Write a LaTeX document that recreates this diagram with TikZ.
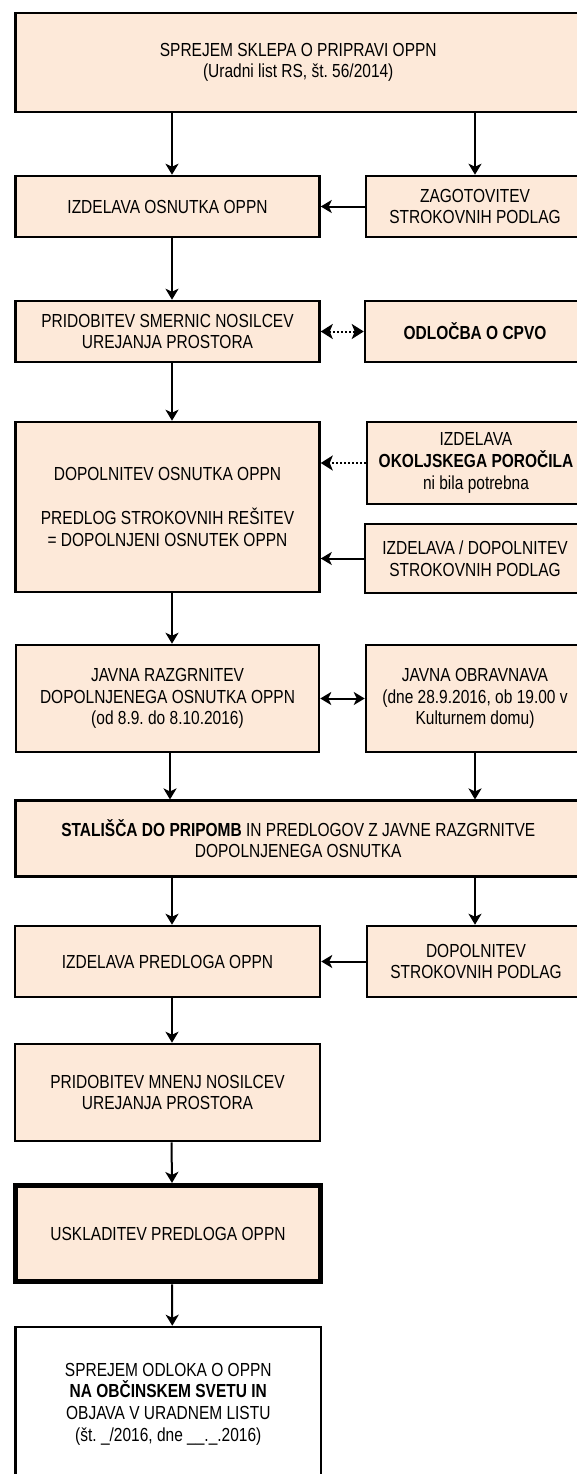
\documentclass[tikz,border=0pt]{standalone}
\usepackage{fontspec}
\setmainfont{Liberation Sans}[FakeStretch=0.82]
\usetikzlibrary{arrows.meta}
\definecolor{peach}{HTML}{FDE9D9}
\frenchspacing

\begin{document}
\begin{tikzpicture}[x=1pt,y=-1pt,
	korak/.style={draw, line width=2.5pt, fill=peach, inner sep=0pt, align=center,
		font=\fontsize{18.9}{21.7}\selectfont},
	arr/.style={-{Stealth[length=11pt,width=13pt,inset=3pt]}, line width=2pt},
	dvoarr/.style={{Stealth[length=11pt,width=13pt,inset=3pt]}-{Stealth[length=11pt,width=13pt,inset=3pt]}, line width=2pt},
	pikarr/.style={-{Stealth[length=12pt,width=15pt,inset=3pt]}, line width=2pt, dash pattern=on 2pt off 2pt},
	dvopikarr/.style={{Stealth[length=12pt,width=15pt,inset=3pt]}-{Stealth[length=12pt,width=15pt,inset=3pt]}, line width=2pt, dash pattern=on 2pt off 2pt}]
	\useasboundingbox (0,0) rectangle (577,1474);
	\clip (0,0) rectangle (577,1474);

		\node[korak, minimum width=565.5pt, minimum height=99pt] (A) at (298.25,62.5) {SPREJEM SKLEPA O PRIPRAVI OPPN\\(Uradni list RS, št. 56/2014)};
			\node[korak, minimum width=304pt, minimum height=61pt] (B) at (167.5,206.5) {IZDELAVA OSNUTKA OPPN};
			\node[korak, minimum width=218pt, minimum height=61pt] (C) at (475,206.5) {ZAGOTOVITEV\\STROKOVNIH PODLAG};
		\draw[arr] ([xshift=4.5pt]B.north |- A.south) -- ([xshift=4.5pt]B.north);
		\draw[arr] (C.north |- A.south) -- (C.north);
		\draw[arr] (C.west) -- (B.east);

			\node[korak, minimum width=304pt, minimum height=61pt] (D) at (167.5,331.5) {PRIDOBITEV SMERNIC NOSILCEV\\UREJANJA PROSTORA};
			\node[korak, minimum width=220pt, minimum height=61pt] (E) at (475,331.5) {\textbf{ODLOČBA O CPVO}};
		\draw[arr] ([xshift=4.5pt]B.south) -- ([xshift=4.5pt]D.north);
		\draw[dvopikarr] (D.east) -- (E.west);

			\node[korak, minimum width=304pt, minimum height=170pt] (F) at (167.5,507) {DOPOLNITEV OSNUTKA OPPN\\[21.7pt]PREDLOG STROKOVNIH REŠITEV\\= DOPOLNJENI OSNUTEK OPPN};
			\node[korak, minimum width=218pt, minimum height=82pt] (G) at (476,463) {IZDELAVA\\\textbf{OKOLJSKEGA POROČILA}\\ni bila potrebna};
			\node[korak, minimum width=220pt, minimum height=69pt] (H) at (475,558.5) {IZDELAVA / DOPOLNITEV\\STROKOVNIH PODLAG};
		\draw[arr] ([xshift=4.5pt]D.south) -- ([xshift=4.5pt]F.north);
		\draw[pikarr] (G.west) -- (G.west -| F.east);
		\draw[arr] (H.west) -- (H.west -| F.east);

			\node[korak, minimum width=303pt, minimum height=107pt] (I) at (167.5,698.5) {JAVNA RAZGRNITEV\\DOPOLNJENEGA OSNUTKA OPPN\\(od 8.9. do 8.10.2016)};
			\node[korak, minimum width=218pt, minimum height=107pt] (J) at (475,698.5) {JAVNA OBRAVNAVA\\(dne 28.9.2016, ob 19.00 v\\Kulturnem domu)};
		\draw[arr] ([xshift=4.5pt]F.south) -- ([xshift=4.5pt]I.north);
		\draw[dvoarr] (I.east) -- (J.west);

		\node[korak, minimum width=565.5pt, minimum height=76pt] (K) at (298.25,838.7) {\textbf{STALIŠČA DO PRIPOMB} IN PREDLOGOV Z JAVNE RAZGRNITVE\\DOPOLNJENEGA OSNUTKA};
		\draw[arr] ([xshift=2.5pt]I.south) -- ([xshift=2.5pt]I.south |- K.north);
		\draw[arr] (J.south) -- (J.south |- K.north);

			\node[korak, minimum width=305pt, minimum height=71pt] (L) at (167.5,961.5) {IZDELAVA PREDLOGA OPPN};
			\node[korak, minimum width=218pt, minimum height=71pt] (M) at (476,961.5) {DOPOLNITEV\\STROKOVNIH PODLAG};
		\draw[arr] ([xshift=4.5pt]L.north |- K.south) -- ([xshift=4.5pt]L.north);
		\draw[arr] ([xshift=-1pt]M.north |- K.south) -- ([xshift=-1pt]M.north);
		\draw[arr] (M.west) -- (L.east);

			\node[korak, minimum width=305pt, minimum height=97pt] (N) at (167.5,1092.5) {PRIDOBITEV MNENJ NOSILCEV\\UREJANJA PROSTORA};
		\draw[arr] ([xshift=4.5pt]L.south) -- ([xshift=4.5pt]N.north);

			\node[korak, line width=5.5pt, minimum width=305pt, minimum height=96pt] (O) at (168,1233.7) {USKLADITEV PREDLOGA OPPN};
		\draw[arr] ([xshift=4pt]N.south) -- ([xshift=4pt]O.north);

			\node[korak, fill=white, minimum width=305.5pt, minimum height=154pt] (P) at (168.3,1404) {SPREJEM ODLOKA O OPPN\\\textbf{NA OBČINSKEM SVETU IN}\\OBJAVA V URADNEM LISTU\\(št. \_/2016, dne \_\_.\_.2016)};
		\draw[arr] ([xshift=4pt]O.south) -- ([xshift=4pt]P.north);
\end{tikzpicture}
\end{document}
